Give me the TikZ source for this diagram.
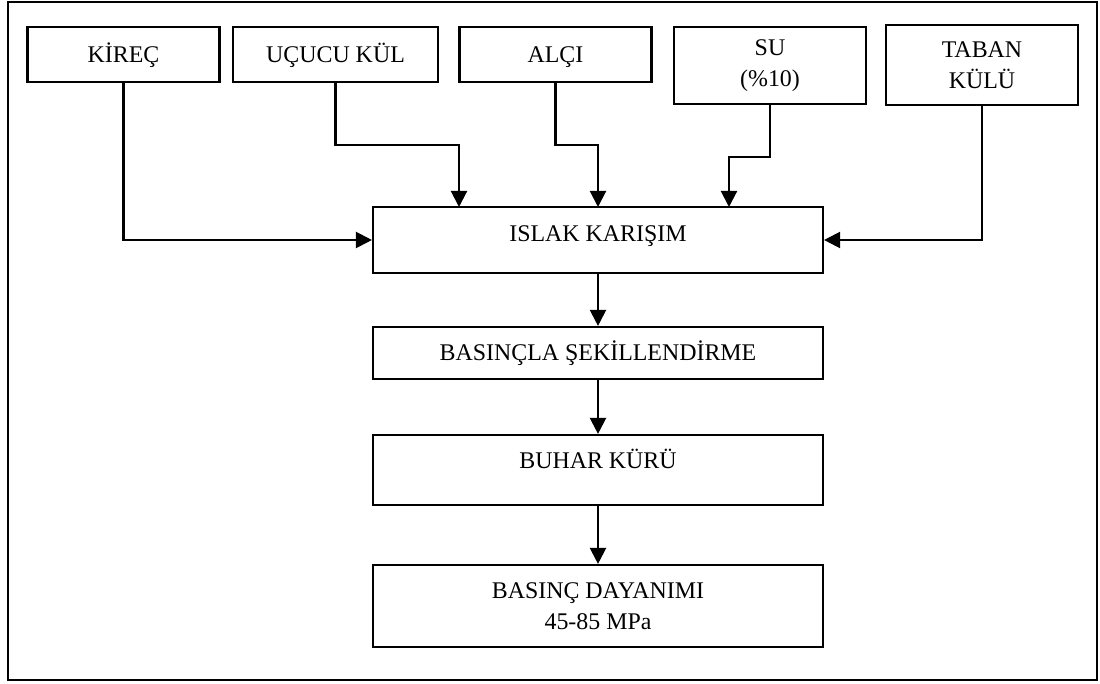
\documentclass[tikz,border=0pt]{standalone}
\usepackage{fontspec}
\setmainfont{Liberation Serif}
\usepackage{tikz}
\usetikzlibrary{arrows.meta,positioning,calc}

\begin{document}
\begin{tikzpicture}[x=1cm, y=-1cm,
    box/.style={draw, line width=1.5pt, align=center, inner sep=0,
        font=\fontsize{17}{22}\selectfont},
    oneline/.style={text height=11.3pt, text depth=0pt},
    topbox/.style={box, minimum width=4.8cm},
    midbox/.style={box, minimum width=11.25cm},
    arr/.style={line width=1.5pt, -{Triangle[length=0.4cm, width=0.4cm]}},
]
    \useasboundingbox (0,0) rectangle (27.5,17.1);
    \draw[line width=1.6pt] (0.2,0.05) rectangle (27.425,17.0);

    % inputs
    \node[topbox, oneline, minimum height=1.375cm] (kirec) at (3.0875,1.3625) {KİREÇ};
    \node[topbox, oneline, minimum width=5.125cm, minimum height=1.375cm] (ucucu) at (8.3875,1.3625) {UÇUCU KÜL};
    \node[topbox, oneline, minimum height=1.375cm] (alci) at (13.8875,1.3625) {ALÇI};
    \node[topbox, minimum height=1.925cm] (su) at (19.25,1.6375) {SU\\(\%10)};
    \node[topbox, minimum height=2cm] (taban) at (24.55,1.625) {TABAN\\KÜLÜ};

    % process
    \node[midbox, oneline, minimum height=1.65cm, text depth=8.6pt] (islak) at (14.95,6.0) {ISLAK KARIŞIM};
    \node[midbox, oneline, minimum height=1.3cm] (basincla) at (14.95,8.825) {BASINÇLA ŞEKİLLENDİRME};
    \node[midbox, oneline, minimum height=1.75cm, text depth=12.8pt] (buhar) at (14.95,11.75) {BUHAR KÜRÜ};
    \node[midbox, minimum height=2.05cm] (dayanim) at (14.95,15.15) {BASINÇ DAYANIMI\\45-85 MPa};

    \coordinate (in1) at (11.475,5.175);
    \coordinate (in2) at (14.95,5.175);
    \coordinate (in3) at (18.225,5.175);

    \draw[arr] (kirec.south) |- (islak.west);
    \draw[arr] (taban.south) |- (islak.east);
    \draw[arr] (ucucu.south) -- ++(0,1.55) -| (in1);
    \draw[arr] (alci.south) -- ++(0,1.55) -| (in2);
    \draw[arr] (su.south) -- ++(0,1.3) -| (in3);

    \draw[arr] (islak) -- (basincla);
    \draw[arr] (basincla) -- (buhar);
    \draw[arr] (buhar) -- (dayanim);
\end{tikzpicture}
\end{document}
